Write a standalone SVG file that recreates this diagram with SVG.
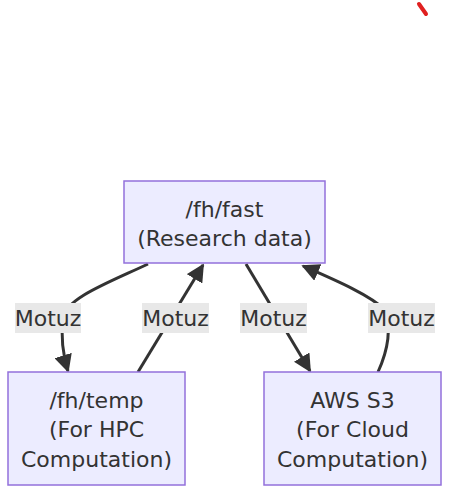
<svg xmlns="http://www.w3.org/2000/svg" width="451" height="498" viewBox="0 0 451 498">
<style>
.node rect{fill:#ECECFF;stroke:#9370DB;stroke-width:1.5}
text{font-family:"DejaVu Sans","Liberation Sans",sans-serif;font-size:22px;fill:#333;text-anchor:middle}
.edge{fill:none;stroke:#333;stroke-width:3}
.lbl rect{fill:#e8e8e8}
</style>
<defs>
<marker id="arrow" viewBox="0 0 10 10" refX="9" refY="5" markerWidth="18" markerHeight="18" markerUnits="userSpaceOnUse" orient="auto">
<path d="M0,0 L10,5 L0,10 z" fill="#333"/>
</marker>
</defs>
<path d="M419,4 L426,14" stroke="#e02020" stroke-width="4" stroke-linecap="round" fill="none"/>
<g id="connectors">
<path class="edge" d="M148,264 C110,282 66,298 63,318 C61,335 62,352 68,371" marker-end="url(#arrow)"/>
<path class="edge" d="M138,372 L203,265" marker-end="url(#arrow)"/>
<path class="edge" d="M246,264 L310,371" marker-end="url(#arrow)"/>
<path class="edge" d="M378,372 C388,350 392,330 385,310 C370,295 335,280 303,266" marker-end="url(#arrow)"/>
<g class="lbl"><rect x="15" y="303" width="66" height="30"/><text x="48" y="326">Motuz</text></g>
<g class="lbl"><rect x="142" y="303" width="67" height="30"/><text x="175.5" y="326">Motuz</text></g>
<g class="lbl"><rect x="240" y="303" width="67" height="30"/><text x="273.5" y="326">Motuz</text></g>
<g class="lbl"><rect x="368" y="303" width="67" height="30"/><text x="401.5" y="326">Motuz</text></g>
</g>
<g id="fast" class="node"><rect x="124" y="181" width="201" height="82"/><text x="224.5" y="217">/fh/fast</text><text x="224.5" y="246">(Research data)</text></g>
<g id="temp" class="node"><rect x="8" y="372" width="177" height="113"/><text x="96.5" y="408">/fh/temp</text><text x="96.5" y="437">(For HPC</text><text x="96.5" y="467">Computation)</text></g>
<g id="s3" class="node"><rect x="264" y="372" width="177" height="113"/><text x="352.5" y="408">AWS S3</text><text x="352.5" y="437">(For Cloud</text><text x="352.5" y="467">Computation)</text></g>
</svg>
